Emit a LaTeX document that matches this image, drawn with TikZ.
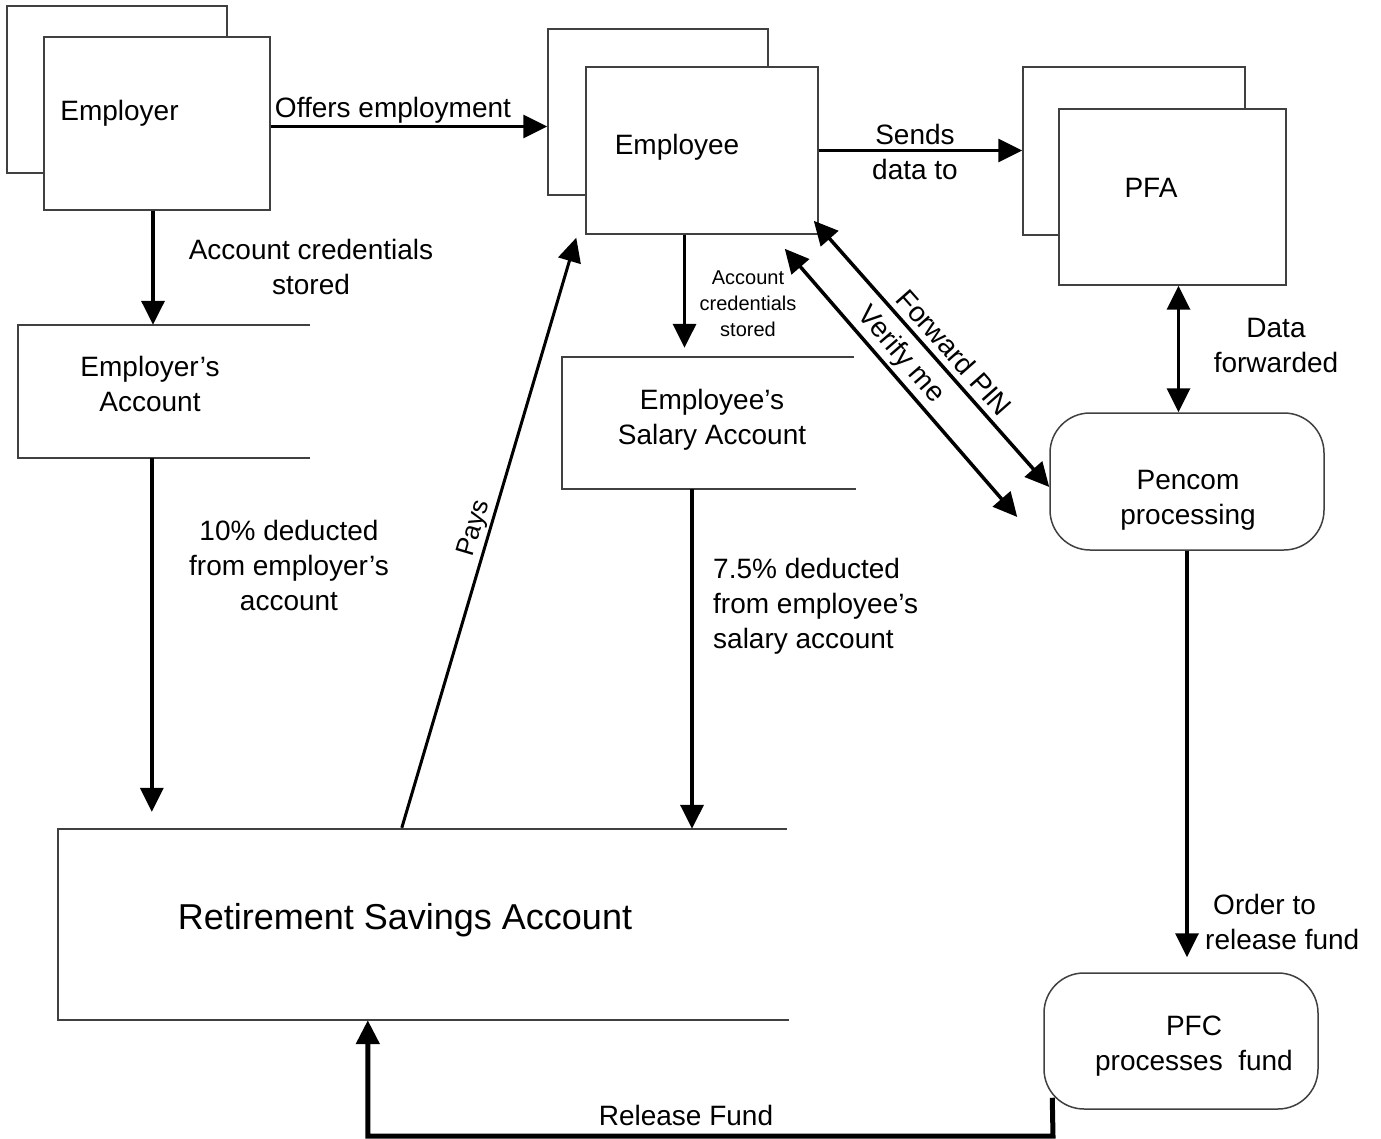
\documentclass[tikz,border=0pt]{standalone}
\usepackage{fontspec}
\setmainfont{Liberation Sans}
\usetikzlibrary{arrows.meta,calc}
\begin{document}
\begin{tikzpicture}[x=1pt,y=-1pt,
  rbox/.style={draw=black!75, line width=1.5pt, fill=white, inner sep=0pt},
  obox/.style={inner sep=0pt},
  oline/.style={draw=black!75, line width=1.5pt},
  txt/.style={inner sep=0pt, font=\fontsize{28}{35}\selectfont, align=center},
  big/.style={inner sep=0pt, font=\fontsize{36}{44}\selectfont},
  small/.style={inner sep=0pt, font=\fontsize{20}{26}\selectfont, align=center},
  payst/.style={inner sep=0pt, font=\fontsize{26}{30}\selectfont},
  tip/.tip={Triangle[length=24pt,width=23pt]},
  arr/.style={line width=3.5pt, -tip},
  arrP/.style={line width=3pt, -tip},
  arrT/.style={line width=5pt, -tip},
  dbl/.style={line width=3.5pt, tip-tip}]
\useasboundingbox (0,0) rectangle (1381,1139);

% stacked boxes
\node[rbox, minimum width=220pt, minimum height=167pt] (employerB) at (117,89.5) {};
\node[rbox, minimum width=226pt, minimum height=173pt] (employer) at (157,123.5) {};
\node[txt] (employerT) at (119.5,113) {Employer};

\node[rbox, minimum width=220pt, minimum height=166pt] (employeeB) at (658,112) {};
\node[rbox, minimum width=232pt, minimum height=167pt] (employee) at (702,150.5) {};
\node[txt] (employeeT) at (677,147) {Employee};

\node[rbox, minimum width=222pt, minimum height=168pt] (pfaB) at (1134,151) {};
\node[rbox, minimum width=227pt, minimum height=176pt] (pfa) at (1172.5,197) {};
\node[txt] (pfaT) at (1151,188) {PFA};

% rounded process boxes
\node[rbox, rounded corners=40pt, minimum width=274pt, minimum height=137pt] (pencom) at (1187,481.5) {};
\node[txt] (pencomT) at (1188,500) {Pencom\\processing};
\node[rbox, rounded corners=40pt, minimum width=274pt, minimum height=136pt] (pfc) at (1181,1041) {};
\node[txt] (pfcT) at (1194,1046) {PFC\\processes\ \ fund};

% open (data store) boxes
\node[obox, minimum width=292pt, minimum height=133pt] (empacc) at (164,391.5) {};
\draw[oline] (empacc.north east) -- (empacc.north west) -- (empacc.south west) -- (empacc.south east);
\node[txt] (empaccT) at (150,383.5) {Employer’s\\Account};

\node[obox, minimum width=292pt, minimum height=132pt] (sal) at (708,423) {};
\draw[oline] (sal.north east) -- (sal.north west) -- (sal.south west) -- ([xshift=2pt]sal.south east);
\node[txt] (salT) at (712,420) {Employee’s\\Salary Account};

\node[obox, minimum width=729pt, minimum height=191pt] (rsa) at (422.5,924.5) {};
\draw[oline] (rsa.north east) -- (rsa.north west) -- (rsa.south west) -- ([xshift=2pt]rsa.south east);
\node[big] (rsaT) at (405,920) {Retirement Savings Account};

% Offers employment
\path ([yshift=-3pt]employer.east) coordinate (o1);
\draw[arr] (o1) -- (o1 -| employeeB.west);
\node[txt] (offersL) at (393,110) {Offers employment};

% Sends data to
\draw[arr] (employee.east) -- (employee.east -| pfaB.west);
\node[txt] (sendsL) at (915,152) {Sends\\data to};

% Data forwarded
\path ([xshift=6pt]pfa.south) coordinate (d1);
\draw[dbl] (d1) -- (d1 |- pencom.north);
\node[txt] (dataL) at (1276,345.5) {Data\\forwarded};

% Order to release fund
\path ([yshift=15pt]pfc.north) coordinate (p1);
\draw[arr] (pencom.south) -- (p1 -| pencom.south);
\node[txt, align=left, anchor=west] (orderL) at (1205,922) {\hspace*{8pt}Order to\\release fund};

% Release Fund
\path ([xshift=9pt,yshift=12pt]pfc.south west) coordinate (r0);
\coordinate (rc) at (1053,1136);
\path ([xshift=310pt]rsa.south west) coordinate (r1);
\draw[arrT] (r0) -- (rc) -| (r1);
\node[txt] (releaseL) at (686,1115) {Release Fund};

% Employer -> Employer's Account
\path ([xshift=-4pt]employer.south) coordinate (e1);
\draw[arr] (e1) -- (e1 |- empacc.north);
\node[txt] (acc1L) at (311,267) {Account credentials\\stored};

% Employer's Account -> RSA
\path ([xshift=94pt]rsa.north west) coordinate (e2);
\draw[arr, shorten >=17pt] (e2 |- empacc.south) -- (e2);
\node[txt] (tenL) at (289,565) {10\% deducted\\from employer’s\\account};

% Employee -> Salary Account
\path ([xshift=-17.5pt]employee.south) coordinate (s1);
\draw[arr, shorten >=9pt] (s1) -- (s1 |- sal.north);
\node[small] (acc2L) at (748,304) {Account\\credentials\\stored};

% Salary Account -> RSA
\path ([xshift=-16pt]sal.south) coordinate (s2);
\draw[arr] (s2) -- (s2 |- rsa.north);
\node[txt, align=left, anchor=west] (sevenL) at (713,606) {7.5\% deducted\\from employee’s\\salary account};

% Pays
\path ([xshift=344pt,yshift=1pt]rsa.north west) coordinate (y0);
\path ([xshift=-9pt,yshift=-3pt]employee.south west) coordinate (y1);
\draw[arrP] (y0) -- node[payst, sloped, above=2pt] (paysL) {Pays} (y1);

% Forward PIN
\path ([xshift=-5pt,yshift=14pt]employee.south east) coordinate (f1);
\path ([yshift=-5.5pt]pencom.west) coordinate (f2);
\draw[dbl] (f1) -- node[txt, sloped, above=6pt, pos=0.54] (fwdL) {Forward PIN} (f2);

% Verify me
\path ([xshift=-34pt,yshift=-14pt]employee.south east) coordinate (v1);
\path ([xshift=-32pt,yshift=-35.5pt]pencom.west) coordinate (v2);
\draw[dbl] (v1) -- node[txt, sloped, above=3pt, pos=0.44] (verL) {Verify me} (v2);
\end{tikzpicture}
\end{document}
